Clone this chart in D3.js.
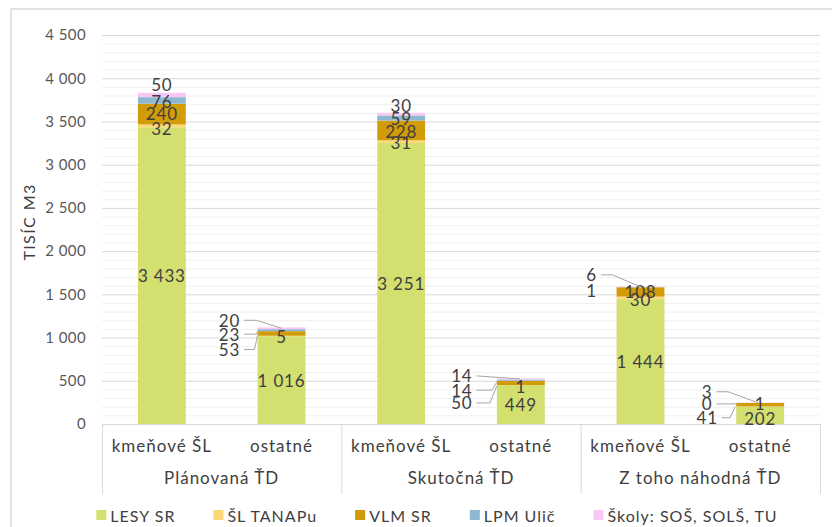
<!DOCTYPE html>
<html><head><meta charset="utf-8">
<script src="https://cdn.jsdelivr.net/npm/d3@7"></script>
<style>
html,body{margin:0;padding:0;background:#fff;}
svg{display:block;font-family:"Lato","Open Sans",sans-serif;}
</style></head>
<body><svg id="c" width="832" height="527"></svg>
<script>
// ---- data ----
const groups = ["Plánovaná ŤD", "Skutočná ŤD", "Z toho náhodná ŤD"];
const subcats = ["kmeňové ŠL", "ostatné"];
const seriesNames = ["LESY SR", "ŠL TANAPu", "VLM SR", "LPM Ulič", "Školy: SOŠ, SOLŠ, TU"];
const lesySR    = [3433, 1016, 3251, 449, 1444, 202];
const slTanap   = [32, 5, 31, 1, 30, 1];
const vlmSR     = [240, 53, 228, 50, 108, 41];
const lpmUlic   = [76, 23, 59, 14, 1, 0];
const skoly     = [50, 20, 30, 14, 6, 3];
const yTicks    = [0, 500, 1000, 1500, 2000, 2500, 3000, 3500, 4000, 4500];
const yTitle    = "TISÍC M3";

// ---- styles ----
const colors = ["#d3df6f", "#fdd878", "#d29b08", "#8cb9d1", "#fac7f5"];
const seriesVals = [lesySR, slTanap, vlmSR, lpmUlic, skoly];

// label placement (style): [dx, dy] from bar center / segment middle; optional leader [kx, tx, ty]
const place = {
  "0-1":[0,3], "0-2":[0,-1], "0-3":[0,1], "0-4":[0,-10],
  "1-1":[0,1], "1-2":[-52,16,[-27,-24,2]], "1-3":[-52,4,[-25,-24,1]], "1-4":[-52,-8,[-25,0,0]],
  "2-1":[0,1], "2-2":[0,1], "2-3":[0,0], "2-4":[0,-9],
  "3-1":[0,1], "3-2":[-59,20,[-31,-24,3]], "3-3":[-59,10,[-29,-24,2]], "3-4":[-59,-3,[-43,-1,0]],
  "4-0":[0,0], "4-1":[0,2], "4-2":[0,0], "4-3":[-49,3], "4-4":[-49,-12,[-28,0,0]],
  "5-0":[0,3], "5-1":[0,-3], "5-2":[-53,13,[-30,-25,2]], "5-3":[-53,1,[-23,-23,1]], "5-4":[-53,-11,[-32,-2,0]]
};

const fmt = d3.formatLocale({decimal:",", thousands:"\u00a0", grouping:[3], currency:["",""]}).format(",d");

const svg = d3.select("#c");
const plot = {l:102, r:820, t:35, b:424};

// frame
svg.append("rect").attr("x",11).attr("y",9).attr("width",840).attr("height",540)
  .attr("fill","#fff").attr("stroke","#d9d9d9").attr("stroke-width",1.5);

const y = d3.scaleLinear().domain([0,4500]).range([plot.b, plot.t]);
const xg = d3.scaleBand().domain(groups).range([plot.l, plot.r]).padding(0);
const xs = d3.scaleBand().domain(subcats).range([0, xg.bandwidth()]).paddingInner(0.6).paddingOuter(0.3);

// minor grid
const minor = d3.range(0, 4501, 100).filter(v => v % 500 !== 0);
svg.append("g").selectAll("line").data(minor).join("line")
  .attr("x1",plot.l).attr("x2",plot.r).attr("y1",d=>y(d)+0.5).attr("y2",d=>y(d)+0.5)
  .attr("stroke","#f0f0f0").attr("stroke-width",1);
// major grid
svg.append("g").selectAll("line").data(yTicks).join("line")
  .attr("x1",plot.l).attr("x2",plot.r).attr("y1",d=>y(d)+0.5).attr("y2",d=>y(d)+0.5)
  .attr("stroke","#d9d9d9").attr("stroke-width",1);

// y axis labels
const yAxis = d3.axisLeft(y).tickValues(yTicks).tickFormat(fmt).tickSize(0).tickPadding(0);
const ya = svg.append("g").attr("transform",`translate(86,0)`).call(yAxis);
ya.select(".domain").remove();
ya.selectAll("text").attr("font-size",15).attr("fill","#595959")
  .attr("font-family","Lato, sans-serif").attr("letter-spacing",0.4);

// y title
svg.append("text").attr("transform",`translate(35,222) rotate(-90)`)
  .attr("text-anchor","middle").attr("font-size",16).attr("letter-spacing",1.4)
  .attr("fill","#404040").text(yTitle);

// stacked data
const rows = [];
groups.forEach((g,gi)=>subcats.forEach((s,si)=>{
  const i = gi*2+si; const r = {g, s, i};
  seriesNames.forEach((n,k)=>r[n]=seriesVals[k][i]);
  rows.push(r);
}));
const stack = d3.stack().keys(seriesNames)(rows);
const bx = d => xg(d.data.g) + xs(d.data.s);

const bars = svg.append("g");
stack.forEach((layer,k)=>{
  bars.append("g").attr("fill",colors[k]).selectAll("rect").data(layer).join("rect")
    .attr("x",d=>bx(d)).attr("width",xs.bandwidth())
    .attr("y",d=>y(d[1])).attr("height",d=>Math.max(0,y(d[0])-y(d[1])));
});

// category axis lines
const seps = [plot.l, ...groups.map(g=>xg(g)+xg.bandwidth())];
svg.append("g").selectAll("line").data(seps).join("line")
  .attr("x1",d=>d+0.5).attr("x2",d=>d+0.5).attr("y1",plot.b).attr("y2",494)
  .attr("stroke","#d9d9d9").attr("stroke-width",1);
svg.append("line").attr("x1",plot.l).attr("x2",plot.r).attr("y1",plot.b+0.5).attr("y2",plot.b+0.5)
  .attr("stroke","#d9d9d9");

const catG = svg.append("g").attr("font-size",17).attr("letter-spacing",1)
  .attr("fill","#404040").attr("text-anchor","middle");
groups.forEach(g=>{
  subcats.forEach(s=>{
    catG.append("text").attr("x",xg(g)+xs(s)+xs.bandwidth()/2).attr("y",452).text(s);
  });
  catG.append("text").attr("x",xg(g)+xg.bandwidth()/2).attr("y",484).text(g);
});

// data labels
const lab = svg.append("g").attr("font-size",17).attr("letter-spacing",0.8).attr("fill","#404040");
stack.forEach((layer,k)=>{
  layer.forEach(d=>{
    const i = d.data.i;
    const p = place[i+"-"+k] || [0,0];
    const cx = bx(d) + xs.bandwidth()/2;
    const my = y((d[0]+d[1])/2);
    const t = lab.append("text").attr("x",cx+p[0]).attr("y",my+p[1])
      .attr("dominant-baseline","central").attr("text-anchor","middle")
      .text(fmt(seriesVals[k][i]));
    if (p[2]) {
      const w = t.node().getComputedTextLength();
      const ly = my+p[1];
      const sx = cx+p[0]+w/2+4;
      lab.append("polyline")
        .attr("points",[[sx,ly],[cx+p[2][0],ly],[cx+p[2][1],my+p[2][2]]].map(q=>q.join(",")).join(" "))
        .attr("fill","none").attr("stroke","#a6a6a6").attr("stroke-width",1);
    }
  });
});

// legend
const leg = svg.append("g").attr("font-size",16).attr("letter-spacing",1).attr("fill","#404040");
let lx = 0;
const items = [];
seriesNames.forEach((n,k)=>{
  const gi = leg.append("g");
  gi.append("rect").attr("x",0).attr("y",-5).attr("width",10).attr("height",10).attr("fill",colors[k]);
  const tx = gi.append("text").attr("x",14).attr("y",0).attr("dominant-baseline","central").text(n);
  const w = 14 + tx.node().getComputedTextLength();
  items.push({gi,w});
});
const gap = 38;
const total = d3.sum(items,d=>d.w) + gap*(items.length-1);
lx = 437 - total/2;
items.forEach(it=>{ it.gi.attr("transform",`translate(${lx},515)`); lx += it.w + gap; });
</script></body></html>
